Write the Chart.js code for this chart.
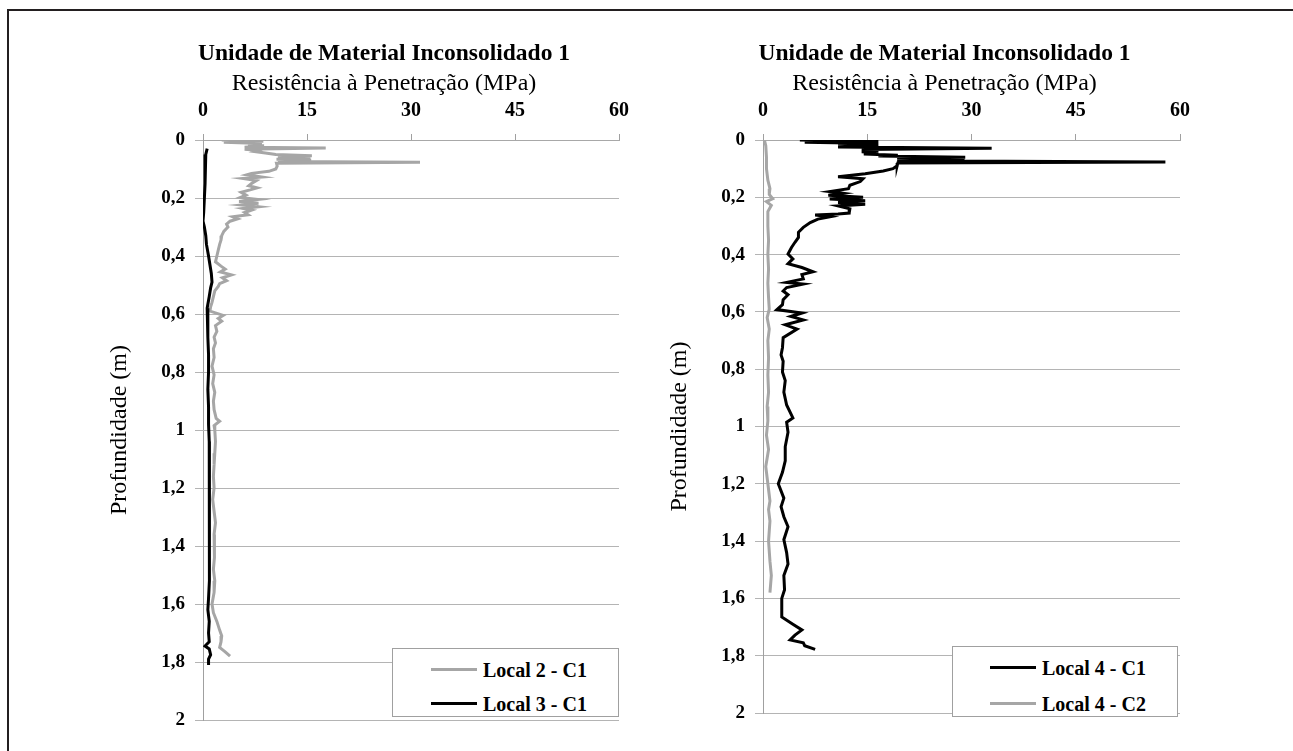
<!DOCTYPE html>
<html>
<head>
<meta charset="utf-8">
<script src="https://cdn.jsdelivr.net/npm/chart.js@4.4.1/dist/chart.umd.min.js"></script>
<style>
  html, body { margin: 0; padding: 0; background: #fff; overflow: hidden; }
  body { width: 1293px; height: 751px; position: relative; }
  #frame { position: absolute; left: 7px; top: 9px; width: 1400px; height: 800px;
           border-left: 2px solid #231f20; border-top: 2px solid #231f20; }
  canvas { position: absolute; }
  .legend { position: absolute; background: #fff; border: 1px solid #a0a0a0;
            font-family: "Liberation Serif", serif; font-weight: bold; font-size: 20px; color: #000; }
  .legend .row { position: absolute; height: 24px; line-height: 24px; white-space: nowrap; }
  .legend .swatch { position: absolute; top: 10px; width: 46px; height: 3px; }
  .legend .lbl { position: absolute; }
</style>
</head>
<body>
<div id="frame"></div>
<canvas id="chartLeft" width="568" height="720" style="left:100px; top:28px;"></canvas>
<canvas id="chartRight" width="568" height="720" style="left:660px; top:28px;"></canvas>

<div class="legend" style="left:392px; top:648px; width:225px; height:67px;">
  <div class="row" style="top:9px; left:0;"><div class="swatch" style="left:38px; background:#a6a6a6;"></div><div class="lbl" style="left:90px;">Local 2 - C1</div></div>
  <div class="row" style="top:43px; left:0;"><div class="swatch" style="left:38px; background:#000;"></div><div class="lbl" style="left:90px;">Local 3 - C1</div></div>
</div>
<div class="legend" style="left:952px; top:646px; width:224px; height:69px;">
  <div class="row" style="top:9px; left:0;"><div class="swatch" style="left:37px; background:#000;"></div><div class="lbl" style="left:89px;">Local 4 - C1</div></div>
  <div class="row" style="top:45px; left:0;"><div class="swatch" style="left:37px; background:#a6a6a6;"></div><div class="lbl" style="left:89px;">Local 4 - C2</div></div>
</div>

<script>
// tick labels (comma decimals, as in the original)
var xTickLabels = ['0', '15', '30', '45', '60']
var yTickLabels = ['0', '0,2', '0,4', '0,6', '0,8', '1', '1,2', '1,4', '1,6', '1,8', '2']

var chartTitle = 'Unidade de Material Inconsolidado 1'
var xTitle = 'Resistência à Penetração (MPa)'
var yTitle = 'Profundidade (m)'

// Local 2 - C1 : depth (m) / resistance (MPa)
var depthL2 = [0.000,0.004,0.008,0.012,0.016,0.020,0.025,0.028,0.032,0.036,0.040,0.045,0.050,0.054,0.058,0.062,0.066,0.070,0.074,0.077,0.080,
  0.090,0.100,0.108,0.115,0.120,0.128,0.133,0.140,0.150,0.158,0.165,0.172,0.180,0.190,0.198,0.205,0.212,0.218,0.224,0.230,0.236,0.242,0.250,
  0.258,0.265,0.272,0.280,0.290,0.300,0.315,0.330,0.345,0.360,0.380,0.400,0.420,0.435,0.445,0.455,0.465,0.475,0.485,0.495,0.505,0.520,0.540,
  0.560,0.575,0.590,0.605,0.615,0.625,0.640,0.660,0.680,0.700,0.720,0.750,0.780,0.810,0.840,0.870,0.900,0.930,0.960,0.970,0.985,1.000,1.040,
  1.080,1.120,1.160,1.200,1.240,1.280,1.320,1.360,1.400,1.440,1.480,1.520,1.560,1.600,1.630,1.660,1.690,1.710,1.730,1.750,1.765,1.780]
var resL2 = [2.7,8.7,3.0,8.5,6.5,8.8,6.0,17.7,6.0,8.0,7.5,9.0,10.5,15.7,10.8,15.5,10.6,15.6,10.8,31.3,10.6,
  10.7,10.5,9.5,7.0,6.3,8.5,5.8,7.7,7.0,6.6,7.8,6.8,5.5,6.2,5.4,7.9,5.2,8.0,5.6,8.0,5.8,7.0,6.0,
  6.5,4.3,5.0,3.9,3.4,3.6,3.0,2.7,2.6,2.4,2.2,2.0,1.8,2.6,3.2,2.5,4.1,2.8,3.4,2.4,2.2,1.7,1.5,
  1.3,1.1,1.0,2.9,2.2,2.7,1.8,2.0,1.6,1.8,1.5,1.6,1.3,1.6,1.4,1.7,1.5,1.6,1.9,2.4,1.6,1.7,1.8,
  1.7,1.6,1.5,1.6,1.4,1.6,1.8,1.6,1.7,1.6,1.5,1.7,1.6,1.3,1.5,2.0,2.4,2.7,2.6,2.4,3.2,3.9]

// Local 3 - C1
var depthL3 = [0.030,0.050,0.100,0.150,0.200,0.250,0.280,0.300,0.330,0.360,0.400,0.430,0.460,0.490,0.510,0.540,0.580,0.620,0.680,0.740,
  0.800,0.860,0.920,0.980,1.040,1.100,1.160,1.220,1.280,1.340,1.400,1.460,1.520,1.580,1.620,1.660,1.700,1.730,1.745,1.755,1.775,1.790,1.810]
var resL3 = [0.6,0.4,0.3,0.3,0.2,0.1,0.0,0.2,0.4,0.5,0.8,1.0,1.2,1.3,1.1,0.9,0.6,0.7,0.7,0.8,
  0.8,0.7,0.8,0.8,0.9,0.9,1.0,1.0,0.9,0.9,0.9,0.9,0.9,0.8,0.7,0.9,0.8,0.9,0.3,0.9,1.1,0.8,0.8]

// Local 4 - C1
var depthL4C1 = [0.000,0.004,0.008,0.012,0.015,0.020,0.024,0.029,0.033,0.037,0.041,0.045,0.049,0.053,0.056,0.060,0.064,0.068,0.072,0.077,0.080,
  0.090,0.100,0.108,0.118,0.128,0.135,0.145,0.158,0.170,0.180,0.186,0.193,0.200,0.206,0.212,0.218,0.224,0.230,0.240,0.255,0.258,0.262,0.268,
  0.276,0.288,0.305,0.322,0.340,0.357,0.375,0.398,0.415,0.432,0.445,0.460,0.470,0.485,0.497,0.503,0.515,0.527,0.540,0.557,0.575,0.592,0.604,
  0.616,0.628,0.645,0.660,0.690,0.725,0.750,0.772,0.810,0.840,0.880,0.925,0.970,0.985,1.020,1.070,1.120,1.160,1.200,1.250,1.280,1.315,1.350,
  1.395,1.440,1.480,1.520,1.570,1.600,1.640,1.665,1.690,1.710,1.728,1.745,1.755,1.765,1.778]
var resL4C1 = [5.3,16.6,6.0,16.6,10.8,16.6,10.8,32.9,14.2,16.6,14.2,16.6,14.5,19.4,16.6,29.1,19.3,29.0,19.3,57.9,19.4,
  19.3,18.7,17.3,14.7,10.8,14.4,14.0,12.5,12.3,9.6,11.5,9.4,14.4,9.6,14.7,10.8,14.7,10.8,12.5,12.4,10.8,7.5,9.6,
  7.9,6.8,5.8,5.1,5.1,4.6,4.1,3.6,4.3,3.6,5.6,7.2,5.6,5.8,3.4,5.8,3.4,2.9,3.6,2.9,2.8,2.0,5.6,
  4.0,5.8,3.2,4.9,2.9,2.8,2.6,2.9,2.8,3.2,3.0,3.4,4.3,3.4,3.6,3.2,3.2,2.8,2.2,3.0,2.6,3.0,3.6,
  3.0,3.4,3.6,3.0,3.1,2.7,2.7,2.7,4.3,5.6,4.6,3.9,5.8,6.0,7.5]

// Local 4 - C2
var depthL4C2 = [0.000,0.020,0.060,0.100,0.140,0.170,0.190,0.205,0.215,0.228,0.250,0.300,0.350,0.400,0.450,0.500,0.550,0.590,0.620,0.660,
  0.700,0.760,0.820,0.880,0.930,0.980,1.030,1.080,1.140,1.200,1.260,1.290,1.330,1.400,1.470,1.520,1.550,1.580]
var resL4C2 = [0.2,0.4,0.5,0.5,0.7,1.0,0.9,1.4,0.5,1.2,0.7,0.7,0.8,0.7,0.8,0.7,0.8,0.9,0.6,0.9,
  0.7,0.8,0.7,0.8,0.6,0.7,0.5,0.8,0.4,0.7,1.0,0.8,1.0,0.8,1.0,1.2,1.1,1.0]

function toPoints(depths, values) {
  var pts = []
  for (var i = 0; i < depths.length; i++) pts.push({ x: values[i], y: depths[i] })
  return pts
}

function makeDataset(label, depths, values, color) {
  return {
    label: label,
    data: toPoints(depths, values),
    showLine: true,
    borderColor: color,
    backgroundColor: color,
    borderWidth: 3,
    pointRadius: 0,
    tension: 0
  }
}

var serif = 'Liberation Serif'

// the two title lines sit a little left of the plot centre in the original
var titlesPlugin = {
  id: 'titles',
  afterDraw: function (chart) {
    var ctx = chart.ctx
    var cx = chart.chartArea.left + chart.chartArea.width / 2 - 27
    ctx.save()
    ctx.fillStyle = '#000'
    ctx.textAlign = 'center'
    ctx.textBaseline = 'middle'
    ctx.font = 'bold 23.5px "Liberation Serif"'
    ctx.fillText(chartTitle, cx, 26)
    ctx.font = '24px "Liberation Serif"'
    ctx.fillText(xTitle, cx, 56)
    ctx.restore()
  }
}

function makeOptions(padRight, padBottom) {
  return {
    responsive: false,
    animation: false,
    devicePixelRatio: 1,
    layout: { padding: { left: 0, top: 0, right: padRight, bottom: padBottom } },
    plugins: {
      legend: { display: false },
      tooltip: { enabled: false }
    },
    scales: {
      x: {
        type: 'linear', position: 'top', min: 0, max: 60,
        afterFit: function (scale) { scale.height = 112 },
        ticks: {
          stepSize: 15, color: '#000', padding: 11, maxRotation: 0,
          font: { family: serif, size: 20, weight: 'bold' },
          callback: function (v) { return xTickLabels[Math.round(v / 15)] }
        },
        grid: { drawOnChartArea: false, drawTicks: true, tickLength: 6, color: '#a0a0a0' },
        border: { display: true, color: '#a8a8a8' }
      },
      y: {
        type: 'linear', reverse: true, min: 0, max: 2,
        afterFit: function (scale) { scale.width = 103 },
        ticks: {
          stepSize: 0.2, color: '#000', padding: 10,
          font: { family: serif, size: 19, weight: 'bold' },
          callback: function (v) { return yTickLabels[Math.round(v * 5)] }
        },
        grid: { color: '#b4b4b4', tickLength: 8, drawTicks: true },
        border: { display: true, color: '#a0a0a0' },
        title: {
          display: true, text: yTitle, color: '#000',
          font: { family: serif, size: 24 },
          padding: { top: 5, bottom: 0 }
        }
      }
    }
  }
}

new Chart(document.getElementById('chartLeft').getContext('2d'), {
  type: 'scatter',
  data: {
    datasets: [
      makeDataset('Local 3 - C1', depthL3, resL3, '#000000'),
      makeDataset('Local 2 - C1', depthL2, resL2, '#a6a6a6')
    ]
  },
  options: makeOptions(49, 28),
  plugins: [titlesPlugin]
})

new Chart(document.getElementById('chartRight').getContext('2d'), {
  type: 'scatter',
  data: {
    datasets: [
      makeDataset('Local 4 - C1', depthL4C1, resL4C1, '#000000'),
      makeDataset('Local 4 - C2', depthL4C2, resL4C2, '#a6a6a6')
    ]
  },
  options: makeOptions(48, 35),
  plugins: [titlesPlugin]
})
</script>
</body>
</html>
